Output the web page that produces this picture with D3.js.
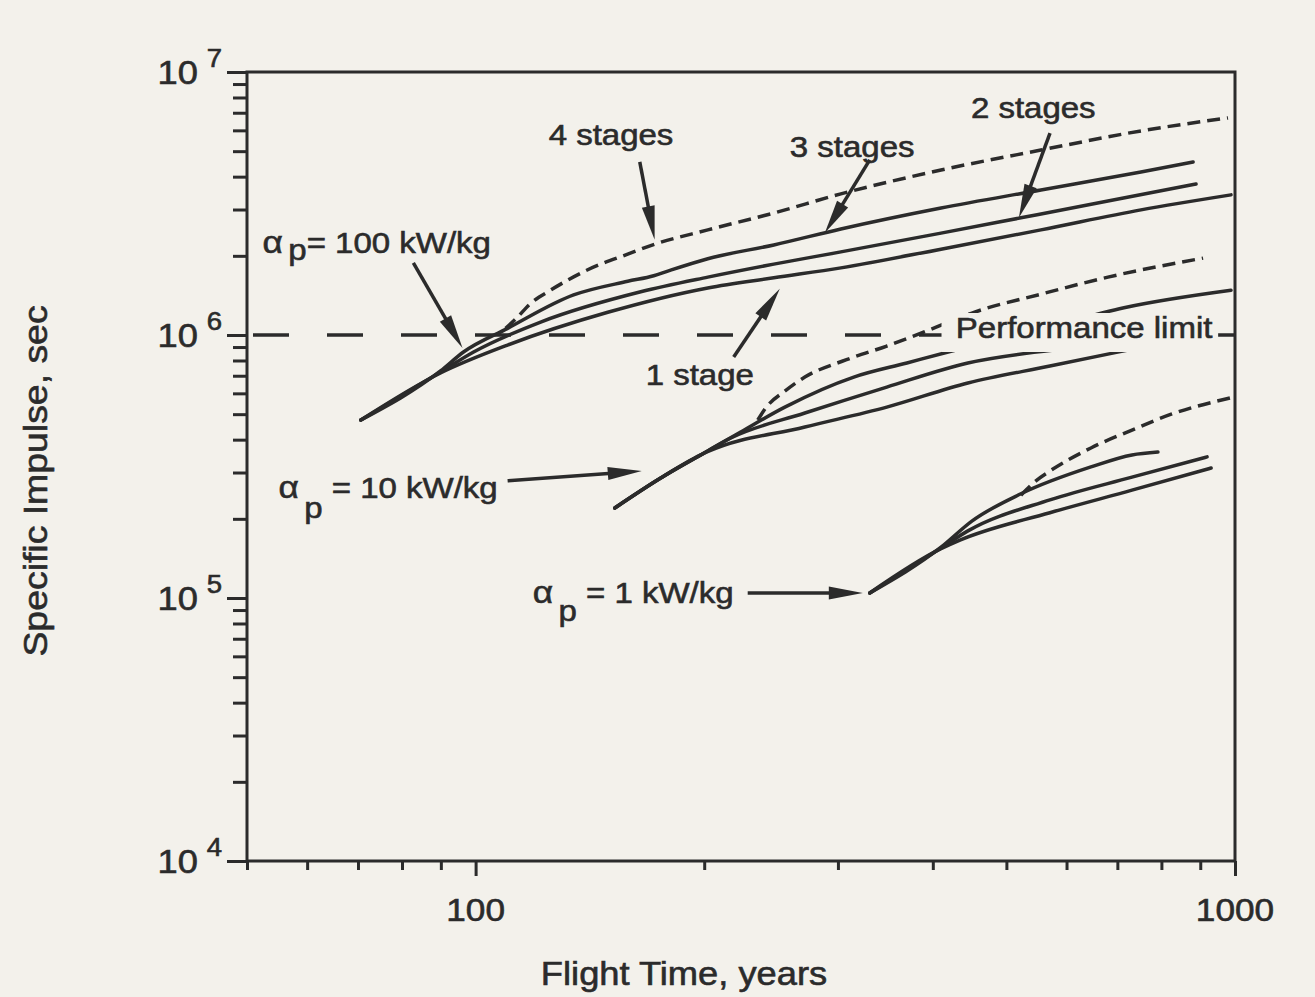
<!DOCTYPE html>
<html>
<head>
<meta charset="utf-8">
<script src="https://cdn.jsdelivr.net/npm/d3@7"></script>
<style>
  html, body { margin: 0; padding: 0; background: #f3f1eb; }
  #chart { width: 1315px; height: 997px; }
  text { font-family: "Liberation Sans", Arial, Helvetica, sans-serif; fill: #2b2b2b; stroke: #2b2b2b; stroke-width: 0.6px; }
</style>
</head>
<body>
<div id="chart"></div>
<script>
// Flight time (years) vs specific impulse (sec).
// alpha_p = 100 kW/kg
var oneStage100 = [[70.6,4.75e5],[89.9,7.17e5],[110.2,9.16e5],[149.3,1.22e6],[202.2,1.51e6],[247.0,1.65e6],[302.7,1.80e6],[410.1,2.12e6],[555.2,2.51e6],[751.9,2.99e6],[987.9,3.41e6]];
var twoStage100 = [[70.6,4.75e5],[89.9,7.23e5],[99.4,8.62e5],[121.8,1.12e6],[165.0,1.46e6],[202.2,1.66e6],[247.0,1.86e6],[302.7,2.07e6],[410.1,2.44e6],[522.5,2.79e6],[680.3,3.23e6],[888.6,3.75e6]];
var threeStage100 = [[70.6,4.75e5],[89.9,7.30e5],[96.4,8.62e5],[110.2,1.06e6],[134.6,1.42e6],[158.6,1.60e6],[171.6,1.68e6],[179.1,1.75e6],[202.2,1.95e6],[247.0,2.20e6],[302.7,2.53e6],[410.1,3.04e6],[555.2,3.56e6],[751.9,4.17e6],[880.6,4.55e6]];
var fourStage100 = [[109.5,1.06e6],[112.9,1.15e6],[118.2,1.32e6],[125.5,1.48e6],[140.5,1.77e6],[158.6,2.03e6],[172.6,2.22e6],[202.2,2.51e6],[247.0,2.91e6],[302.7,3.44e6],[410.1,4.24e6],[555.2,5.05e6],[751.9,5.97e6],[979.0,6.69e6]];

// alpha_p = 10 kW/kg
var oneStage10 = [[152.5,2.20e5],[175.3,2.86e5],[197.9,3.50e5],[201.6,3.59e5],[271.4,4.47e5],[347.9,5.32e5],[444.9,6.57e5],[570.5,7.62e5],[722.9,8.77e5]];
var twoStage10 = [[152.5,2.20e5],[175.3,2.86e5],[197.9,3.50e5],[216.8,4.06e5],[271.4,5.05e5],[347.9,6.34e5],[444.9,7.83e5],[577.5,8.77e5]];
var threeStage10 = [[152.5,2.20e5],[175.3,2.86e5],[197.9,3.50e5],[223.4,4.28e5],[255.4,5.32e5],[314.8,6.92e5],[369.8,7.83e5],[423.9,8.69e5],[555.2,1.05e6],[714.2,1.27e6],[987.9,1.48e6]];
var fourStage10 = [[235.3,4.75e5],[241.0,5.28e5],[255.4,6.12e5],[271.4,6.92e5],[307.3,8.04e5],[347.9,9.08e5],[394.0,1.04e6],[453.1,1.22e6],[555.2,1.43e6],[680.3,1.66e6],[907.7,1.96e6]];

// alpha_p = 1 kW/kg
var oneStage1 = [[330.4,1.045e5],[410.1,1.54e5],[434.3,1.66e5],[570.5,2.11e5],[731.7,2.57e5],[930.1,3.12e5]];
var twoStage1 = [[330.4,1.045e5],[410.1,1.55e5],[444.9,1.80e5],[570.5,2.36e5],[731.7,2.88e5],[918.8,3.44e5]];
var threeStage1 = [[330.4,1.045e5],[410.1,1.56e5],[450.3,1.96e5],[522.5,2.49e5],[646.1,3.15e5],[731.7,3.50e5],[791.7,3.59e5]];
var fourStage1 = [[522.5,2.46e5],[546.8,2.79e5],[570.5,3.04e5],[646.1,3.72e5],[731.7,4.35e5],[826.0,5.01e5],[984.9,5.76e5]];

var solidSeries = [oneStage100, twoStage100, threeStage100, oneStage10, twoStage10, threeStage10, oneStage1, twoStage1, threeStage1];
var dashedSeries = [fourStage100, fourStage10, fourStage1];

var performanceLimit = 1e6;

// axis ticks
var xMajorTicks = [100, 1000];
var xTickLabels = ["100", "1000"];
var xMinorTicks = [50, 60, 70, 80, 90, 200, 300, 400, 500, 600, 700, 800, 900];
var yMajorTicks = [1e4, 1e5, 1e6, 1e7];
var yTickExponents = ["4", "5", "6", "7"];

// annotations, in data units
var notes = [
  { text: "4 stages", at: [124.8, 5.28e6] },
  { text: "3 stages", at: [259.3, 4.75e6] },
  { text: "2 stages", at: [449.0, 6.69e6] },
  { text: "1 stage",  at: [167.5, 6.45e5] }
];
var alphaNotes = [
  { value: "= 100 kW/kg", at: [52.4, 2.05e6], sub: 7 },
  { value: " = 10 kW/kg", at: [55.0, 2.40e5], sub: 20 },
  { value: " = 1 kW/kg",  at: [118.9, 9.6e4], sub: 18 }
];
var arrows = [
  { from: [164.5, 4.55e6], to: [172.1, 2.30e6] },
  { from: [330.4, 4.63e6], to: [288.3, 2.44e6] },
  { from: [570.7, 5.86e6], to: [519.3, 2.79e6] },
  { from: [218.7, 8.25e5], to: [251.5, 1.50e6] },
  { from: [82.8, 1.88e6],  to: [96.1, 8.93e5] },
  { from: [110.2, 2.79e5], to: [165.5, 3.04e5] },
  { from: [228.2, 1.045e5], to: [323.5, 1.045e5] }
];
var limitLabel = { text: "Performance limit", at: [428.9, 9.74e5] };

var ink = "#2b2b2b";
var bg = "#f3f1eb";
var stretch = 1.1; // the scanned lettering is a bit wider than Arial

var margin = { top: 72, right: 80, bottom: 136, left: 247 };
var W = 1315, H = 997;
var width = W - margin.left - margin.right;
var height = H - margin.top - margin.bottom;

var svg = d3.select("#chart").append("svg")
  .attr("width", W)
  .attr("height", H);

svg.append("rect").attr("width", W).attr("height", H).attr("fill", bg);

var x = d3.scaleLog().domain([50, 1000]).range([margin.left, margin.left + width]);
var y = d3.scaleLog().domain([1e4, 1e7]).range([margin.top + height, margin.top]);

function placeText(sel, px, py) {
  return sel.append("text")
    .attr("transform", "translate(" + px + "," + py + ") scale(" + stretch + ",1)");
}

// ticks
var yMinor = [];
[1e4, 1e5, 1e6].forEach(function(d) {
  for (var k = 2; k <= 9; k++) yMinor.push(d * k);
});

function tickAxis(axis, transform) {
  var g = svg.append("g").attr("transform", transform).call(axis);
  g.select(".domain").remove();
  g.selectAll(".tick line").attr("stroke", ink).attr("stroke-width", 3);
  g.selectAll(".tick text").remove();
  return g;
}
tickAxis(d3.axisBottom(x).tickValues(xMinorTicks).tickSize(9).tickFormat(""), "translate(0," + y(1e4) + ")");
tickAxis(d3.axisBottom(x).tickValues(xMajorTicks).tickSize(15).tickFormat(""), "translate(0," + y(1e4) + ")");
tickAxis(d3.axisLeft(y).tickValues(yMinor).tickSize(14).tickFormat(""), "translate(" + x(50) + ",0)");
tickAxis(d3.axisLeft(y).tickValues(yMajorTicks).tickSize(20).tickFormat(""), "translate(" + x(50) + ",0)");

// frame
svg.append("rect")
  .attr("x", x(50)).attr("y", y(1e7))
  .attr("width", x(1000) - x(50)).attr("height", y(1e4) - y(1e7))
  .attr("fill", "none").attr("stroke", ink).attr("stroke-width", 3);

// tick labels
yMajorTicks.forEach(function(v, i) {
  var t = placeText(svg, x(50) - 25, y(v) + 12).attr("text-anchor", "end");
  t.append("tspan").attr("font-size", 33).text("10");
  t.append("tspan").attr("font-size", 25).attr("dx", 8).attr("dy", -17).text(yTickExponents[i]);
});
xMajorTicks.forEach(function(v, i) {
  placeText(svg, x(v), 921).attr("text-anchor", "middle").attr("font-size", 32).text(xTickLabels[i]);
});

// axis titles
placeText(svg, 684, 985).attr("text-anchor", "middle").attr("font-size", 33).text("Flight Time, years");
svg.append("text")
  .attr("transform", "translate(47,481) rotate(-90) scale(" + stretch + ",1)")
  .attr("text-anchor", "middle").attr("font-size", 34)
  .text("Specific Impulse, sec");

// performance limit
svg.append("line")
  .attr("x1", x(50)).attr("x2", x(1000))
  .attr("y1", y(performanceLimit)).attr("y2", y(performanceLimit))
  .attr("stroke", ink).attr("stroke-width", 3.5)
  .attr("stroke-dasharray", "36,38").attr("stroke-dashoffset", 68);

// curves
var line = d3.line()
  .x(function(d) { return x(d[0]); })
  .y(function(d) { return y(d[1]); })
  .curve(d3.curveMonotoneX);

svg.selectAll(".solid").data(solidSeries).enter().append("path")
  .attr("class", "solid")
  .attr("d", line)
  .attr("fill", "none").attr("stroke", ink).attr("stroke-width", 3.5)
  .attr("stroke-linecap", "round").attr("stroke-linejoin", "round");

svg.selectAll(".dashed").data(dashedSeries).enter().append("path")
  .attr("class", "dashed")
  .attr("d", line)
  .attr("fill", "none").attr("stroke", ink).attr("stroke-width", 3.5)
  .attr("stroke-dasharray", "13,7");

// "Performance limit" label sits on an opaque box over the lines
var lim = svg.append("g")
  .attr("transform", "translate(" + x(limitLabel.at[0]) + "," + y(limitLabel.at[1]) + ") scale(" + stretch + ",1)");
var limBox = lim.append("rect").attr("fill", bg);
var limText = lim.append("text").attr("font-size", 30).text(limitLabel.text);
var bb = limText.node().getBBox();
limBox.attr("x", -13).attr("y", -25).attr("width", bb.width + 18).attr("height", 39);

// arrows
arrows.forEach(function(a) {
  var x0 = x(a.from[0]), y0 = y(a.from[1]);
  var x1 = x(a.to[0]), y1 = y(a.to[1]);
  var dx = x1 - x0, dy = y1 - y0, len = Math.sqrt(dx * dx + dy * dy);
  var ux = dx / len, uy = dy / len;
  var headLen = 34, halfW = 6.5;
  var bx = x1 - ux * headLen, by = y1 - uy * headLen;
  svg.append("line")
    .attr("x1", x0).attr("y1", y0).attr("x2", bx + ux * 4).attr("y2", by + uy * 4)
    .attr("stroke", ink).attr("stroke-width", 3.5);
  svg.append("path")
    .attr("d", "M" + x1 + "," + y1 +
      "L" + (bx - uy * halfW) + "," + (by + ux * halfW) +
      "L" + (bx + uy * halfW) + "," + (by - ux * halfW) + "Z")
    .attr("fill", ink);
});

// stage labels
notes.forEach(function(n) {
  placeText(svg, x(n.at[0]), y(n.at[1])).attr("font-size", 30).text(n.text);
});

// alpha_p labels
alphaNotes.forEach(function(n) {
  var t = placeText(svg, x(n.at[0]), y(n.at[1])).attr("font-size", 30);
  t.append("tspan").attr("font-size", 32).text("\u03b1");
  t.append("tspan").attr("dx", 5).attr("dy", n.sub).text("p");
  t.append("tspan").attr("dy", -n.sub).text(n.value);
});
</script>
</body>
</html>
